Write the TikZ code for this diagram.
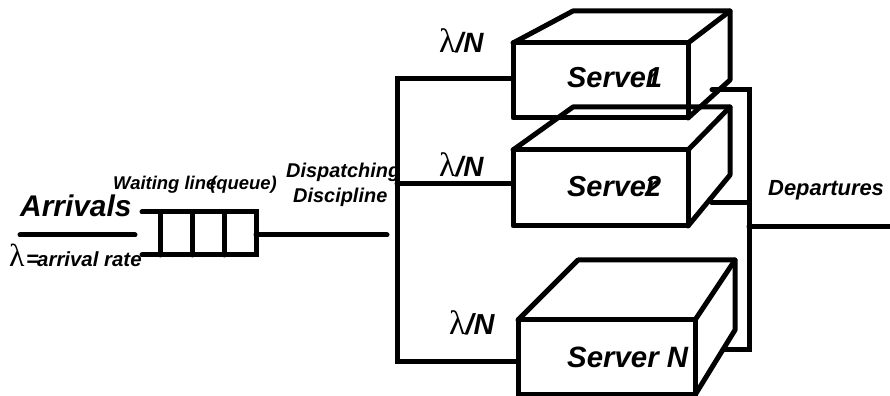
\documentclass[tikz,border=0pt]{standalone}
\usepackage{fontspec}
\setmainfont{Liberation Sans}
\newfontfamily\lamfont{Liberation Serif}
\newcommand{\lam}[1]{{\lamfont\fontsize{#1}{#1}\selectfont\mdseries\upshape λ}}
\tikzset{
  wire/.style={line width=5.0bp,line cap=round,line join=miter},
  serverline/.style={line width=5.0bp,line cap=round,line join=round},
  serverbox/.style={draw,line width=5.0bp,line join=round,outer sep=0pt,inner sep=0pt,minimum height=75bp},
  lab/.style={inner sep=0pt,anchor=base west,font=\bfseries\itshape\fontsize{#1}{#1}\selectfont},
}
\begin{document}
\begin{tikzpicture}[line join=bevel]
  \useasboundingbox (0.0bp,0.0bp) rectangle (890.0bp,396.0bp);
  % Node: server1
  \node [serverbox,minimum width=175bp] (server1) at (600.5bp,315.5bp) {};
  \draw [serverline] (server1.north west) -- (573.0bp,385.0bp) -- (730.0bp,385.0bp) -- (730.0bp,316.0bp) -- (server1.south east);
  \draw [serverline] (server1.north east) -- (730.0bp,385.0bp);
  \node [lab=29] (servername1) at (567.0bp,308.0bp) {Server};
  \node [lab=29] (serverid1) at (646.0bp,308.0bp) {1};
  % Node: server2
  \node [serverbox,minimum width=175bp,minimum height=76bp] (server2) at (600.5bp,208.0bp) {};
  \draw [serverline] (server2.north west) -- (573.0bp,289.0bp) -- (730.0bp,289.0bp) -- (730.0bp,221.0bp) -- (server2.south east);
  \draw [serverline] (server2.north east) -- (730.0bp,289.0bp);
  \node [lab=29] (servername2) at (567.0bp,199.0bp) {Server};
  \node [lab=29] (serverid2) at (645.0bp,199.0bp) {2};
  % Node: serverN
  \node [serverbox,minimum width=177bp] (serverN) at (606.5bp,38.5bp) {};
  \draw [serverline] (serverN.north west) -- (578.0bp,136.0bp) -- (735.0bp,136.0bp) -- (735.0bp,66.0bp) -- (serverN.south east);
  \draw [serverline] (serverN.north east) -- (735.0bp,136.0bp);
  \node [lab=29.5] (servernameN) at (567.0bp,29.0bp) {Server N};
  % Node: queue
  \coordinate (qtop) at (142.0bp,184.0bp);
  \coordinate (qbot) at (142.0bp,141.0bp);
  \coordinate (qtopr) at (256.0bp,184.0bp);
  \coordinate (qbotr) at (256.0bp,141.0bp);
  \draw [wire] (qtop) -- (qtopr) -- (qbotr) -- (qbot);
  \foreach \x/\name in {160/a,192/b,224/c} {
    \coordinate (qup\name) at (\x bp,184.0bp);
    \coordinate (qdn\name) at (\x bp,141.0bp);
    \draw [wire] (qup\name) -- (qdn\name);
  }
  % Edge: arrivals
  \coordinate (arrfrom) at (20.0bp,161.0bp);
  \coordinate (arrto) at (135.0bp,161.0bp);
  \draw [wire] (arrfrom) -- (arrto);
  % Edge: queue -> dispatcher
  \coordinate (qout) at (256.0bp,161.0bp);
  \coordinate (dispin) at (387.0bp,161.0bp);
  \draw [wire] (qout) -- (dispin);
  % Edge: dispatcher -> servers
  \coordinate (bustop) at (397.0bp,317.0bp);
  \coordinate (busmid) at (397.0bp,212.0bp);
  \coordinate (busbot) at (397.0bp,34.0bp);
  \draw [wire] (server1.west |- bustop) -- (bustop) -- (busbot) -- (serverN.west |- busbot);
  \draw [wire] (busmid) -- (server2.west |- busmid);
  % Edge: servers -> departures
  \coordinate (out1) at (712.0bp,306.0bp);
  \coordinate (out2) at (712.0bp,193.0bp);
  \coordinate (outN) at (723.0bp,46.0bp);
  \coordinate (coltop) at (749.0bp,306.0bp);
  \coordinate (colmid) at (749.0bp,193.0bp);
  \coordinate (colbot) at (749.0bp,46.0bp);
  \coordinate (depart) at (749.0bp,169.0bp);
  \coordinate (departto) at (892.0bp,169.0bp);
  \draw [wire] (out1) -- (coltop) -- (colbot) -- (outN);
  \draw [wire] (out2) -- (colmid);
  \draw [wire] (depart) -- (departto);
  % Labels
  \node [lab=30] (arrivals) at (20.0bp,179.0bp) {Arrivals};
  \node [lab=20.5] (ratesym) at (9.0bp,129.0bp) {\lam{32}};
  \node [lab=22] (rateeq) at (26.0bp,129.0bp) {=};
  \node [lab=20.5] (rate) at (37.0bp,129.0bp) {arrival rate};
  \node [lab=18.5] (waiting) at (113.0bp,206.0bp) {Waiting line};
  \node [lab=18.5] (queue) at (210.0bp,206.0bp) {(queue)};
  \node [lab=20] (dispatching) at (286.0bp,218.0bp) {Dispatching};
  \node [lab=20] (discipline) at (293.0bp,193.0bp) {Discipline};
  \node [lab=22] (departures) at (768.0bp,200.0bp) {Departures};
  \node [lab=28] (rate1) at (439.0bp,343.0bp) {\lam{34}/N};
  \node [lab=28] (rate2) at (439.0bp,219.0bp) {\lam{34}/N};
  \node [lab=29] (rateN) at (449.0bp,61.0bp) {\lam{34}/N};
\end{tikzpicture}
\end{document}
